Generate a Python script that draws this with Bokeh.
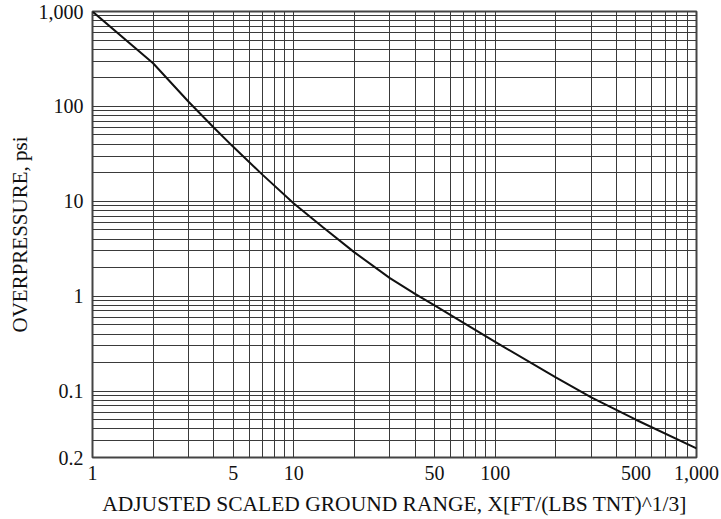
from bokeh.plotting import figure
from bokeh.models import Range1d, FixedTicker
from bokeh.embed import file_html
from bokeh.resources import INLINE

# Curve
range_x = [1, 2, 3, 4, 5, 7, 10, 14, 20, 30, 40, 50, 70, 100, 200, 300, 500, 1000]
pressure_psi = [1000, 285, 112, 60, 37.5, 19, 9.5, 5.3, 2.9, 1.55, 1.06, 0.80, 0.52, 0.33, 0.14, 0.086, 0.05, 0.025]

# Axis ticks
x_ticks = [1, 5, 10, 50, 100, 500, 1000]
x_tick_labels = ["1", "5", "10", "50", "100", "500", "1,000"]
x_minor = [2, 3, 4, 6, 7, 8, 9, 20, 30, 40, 60, 70, 80, 90, 200, 300, 400, 600, 700, 800, 900]
y_ticks = [0.02, 0.1, 1, 10, 100, 1000]
y_tick_labels = ["0.2", "0.1", "1", "10", "100", "1,000"]
y_minor = [0.03, 0.04, 0.05, 0.06, 0.07, 0.08, 0.09,
           0.2, 0.3, 0.4, 0.5, 0.6, 0.7, 0.8, 0.9,
           2, 3, 4, 5, 6, 7, 8, 9,
           20, 30, 40, 50, 60, 70, 80, 90,
           200, 300, 400, 500, 600, 700, 800, 900]

FONT = "Liberation Serif"

p = figure(x_axis_type="log", y_axis_type="log",
           x_range=Range1d(1, 1000), y_range=Range1d(0.02, 1000),
           frame_width=604, frame_height=446,
           min_border_top=11, min_border_right=26, min_border_left=92, min_border_bottom=0,
           output_backend="svg", toolbar_location=None)

xt = FixedTicker(ticks=x_ticks, minor_ticks=x_minor)
yt = FixedTicker(ticks=y_ticks, minor_ticks=y_minor)
p.xaxis.ticker = xt
p.yaxis.ticker = yt
p.xgrid.ticker = xt
p.ygrid.ticker = yt
p.xaxis.major_label_overrides = {v: l for v, l in zip(x_ticks, x_tick_labels)}
p.yaxis.major_label_overrides = {v: l for v, l in zip(y_ticks, y_tick_labels)}

for ax in (p.xaxis, p.yaxis):
    ax.major_tick_out = 0
    ax.major_tick_in = 0
    ax.minor_tick_out = 0
    ax.minor_tick_in = 0
    ax.axis_line_color = None
    ax.major_label_text_font = FONT
    ax.major_label_text_font_size = "20px"
    ax.major_label_text_color = "#111111"
    ax.axis_label_text_font = FONT
    ax.axis_label_text_font_style = "normal"
    ax.axis_label_text_color = "#111111"

p.xaxis.axis_label = "ADJUSTED SCALED GROUND RANGE, X[FT/(LBS TNT)^1/3]"
p.yaxis.axis_label = "OVERPRESSURE, psi"
p.xaxis.axis_label_text_font_size = "21.5px"
p.yaxis.axis_label_text_font_size = "21px"
p.xaxis.major_label_standoff = 8
p.xaxis.axis_label_standoff = 9
p.yaxis.major_label_standoff = 9
p.yaxis.axis_label_standoff = 4

for g in (p.xgrid, p.ygrid):
    g.grid_line_color = "#3a3a3a"
    g.grid_line_width = 1
    g.minor_grid_line_color = "#3a3a3a"
    g.minor_grid_line_width = 1

p.outline_line_color = "#444444"
p.outline_line_width = 2

p.line(range_x, pressure_psi, line_color="#111111", line_width=2)

open("out.html", "w").write(file_html(p, INLINE))
